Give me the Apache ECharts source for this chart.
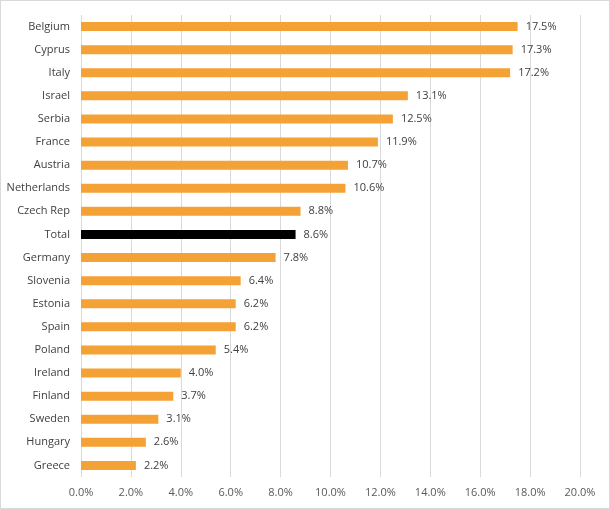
<!DOCTYPE html>
<html><head><meta charset="utf-8">
<script src="https://cdn.jsdelivr.net/npm/echarts@6/dist/echarts.min.js"></script>
<style>html,body{margin:0;padding:0;background:#fff}#c{width:608px;height:507px;border:1px solid #d9d9d9}</style>
</head><body><div id="c"></div>
<script>
const categories = ["Belgium","Cyprus","Italy","Israel","Serbia","France","Austria","Netherlands","Czech Rep","Total","Germany","Slovenia","Estonia","Spain","Poland","Ireland","Finland","Sweden","Hungary","Greece"];
const values = [17.5,17.3,17.2,13.1,12.5,11.9,10.7,10.6,8.8,8.6,7.8,6.4,6.2,6.2,5.4,4.0,3.7,3.1,2.6,2.2];
const highlight = "Total";
const chart = echarts.init(document.getElementById('c'));
const font = "'Open Sans', 'Noto Sans', sans-serif";
chart.setOption({
  animation:false,
  grid:{left:80,right:29,top:14,bottom:31},
  xAxis:{type:'value',min:0,max:20,interval:2,
    axisLine:{show:false},axisTick:{show:false},
    splitLine:{lineStyle:{color:'#d9d9d9'}},
    axisLabel:{formatter:v=>v.toFixed(1)+'%',color:'#595959',fontSize:11,fontFamily:font,margin:10}},
  yAxis:{type:'category',inverse:true,data:categories,
    axisLine:{show:false},axisTick:{show:false},
    axisLabel:{color:'#404040',fontSize:11,fontFamily:font,margin:11}},
  series:[{type:'bar',barWidth:9,
    data:values.map((v,i)=>({value:v,itemStyle:{color:categories[i]===highlight?'#000000':'#F4A236'}})),
    label:{show:true,position:'right',distance:8,formatter:p=>p.value.toFixed(1)+'%',color:'#404040',fontSize:11,fontFamily:font}}]
});
</script></body></html>
